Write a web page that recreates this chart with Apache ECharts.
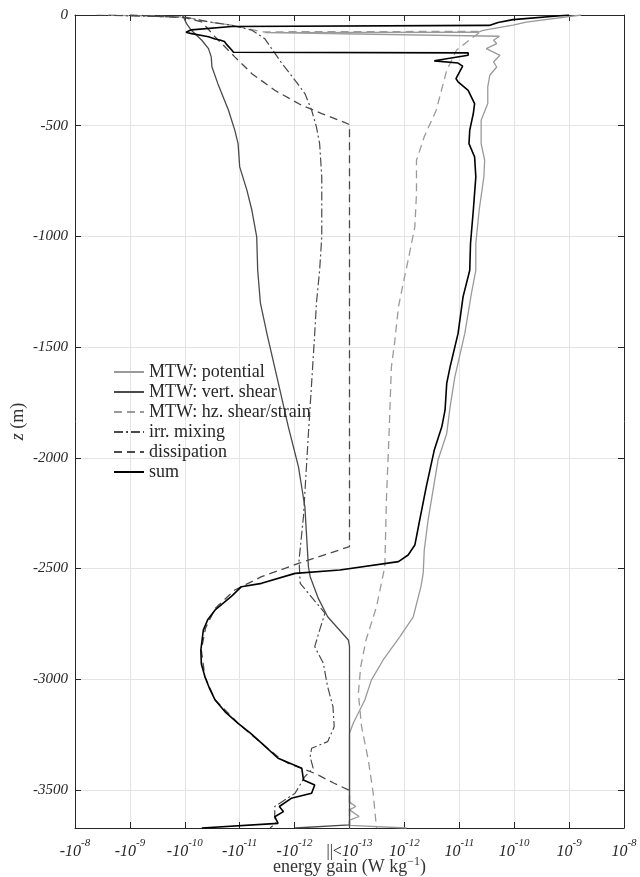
<!DOCTYPE html>
<html>
<head>
<meta charset="utf-8">
<script src="https://cdn.jsdelivr.net/npm/echarts@6/dist/echarts.min.js"></script>
<style>
html, body { margin: 0; padding: 0; background: #ffffff; }
#chart { width: 640px; height: 877px; }
</style>
</head>
<body>
<div id="chart"></div>
<script>
// Energy-gain profiles versus depth (W kg^-1, depth in m).
// Magnitudes below 1e-13 are lumped into the central "||<1e-13" band.

const depthPotential = [0, -32, -46, -69, -78, -80, -85, -96, -114, -129, -152, -182, -212, -235, -272, -325, -400, -475, -581, -656, -731, -882, -1032, -1153, -1258, -1438, -1634, -1770, -1890, -2010, -2281, -2417, -2522, -2582, -2718, -2808, -2913, -3004, -3094, -3199, -3244, -3555, -3575, -3590, -3620, -3636, -3660, -3672];
const gainPotential = [1.66e-9, 1.66e-10, 9.5e-11, 2.7e-11, 2.2e-11, -3.5e-12, -3.5e-12, 5.4e-11, 4.2e-11, 4.8e-11, 3.1e-11, 5.5e-11, 4.2e-11, 4.8e-11, 3.6e-11, 3.3e-11, 3.3e-11, 2.5e-11, 2.5e-11, 2.9e-11, 2.8e-11, 2.3e-11, 2.0e-11, 2.0e-11, 1.66e-11, 1.26e-11, 8.3e-12, 6.8e-12, 5.9e-12, 4.1e-12, 2.7e-12, 2.3e-12, 2.2e-12, 2.0e-12, 1.45e-12, 8.3e-13, 4.1e-13, 2.5e-13, 1.9e-13, 1.17e-13, 0, 0, 1.3e-13, 0, 1.5e-13, 0, 0, 1.1e-12];

const depthVertShear = [0, -39, -69, -114, -152, -189, -235, -310, -430, -520, -581, -686, -791, -882, -1002, -1153, -1300, -1438, -1634, -1860, -2041, -2221, -2492, -2537, -2635, -2718, -2823, -2850, -3658, -3672];
const gainVertShear = [-1.1e-10, -9.3e-11, -7.6e-11, -4.9e-11, -3.7e-11, -3.3e-11, -3.2e-11, -2.5e-11, -1.6e-11, -1.23e-11, -1.07e-11, -1.0e-11, -7.4e-12, -6.0e-12, -4.9e-12, -4.7e-12, -4.2e-12, -3.2e-12, -2.1e-12, -1.3e-12, -8.5e-13, -6.5e-13, -5.6e-13, -5.2e-13, -3.7e-13, -2.5e-13, -1.05e-13, 0, 0, -9.8e-13];

const depthHzShear = [0, -9, -31, -46, -76, -74, -99, -159, -250, -430, -550, -656, -806, -957, -1107, -1213, -1318, -1484, -1589, -1920, -2191, -2492, -2673, -2823, -2943, -3064, -3214, -3365, -3515, -3672];
const gainHzShear = [-2.5e-9, -1.0e-10, -3.7e-11, -1.4e-11, -4.0e-12, 2.5e-11, 1.8e-11, 8.9e-12, 5.9e-12, 3.8e-12, 2.3e-12, 1.66e-12, 1.66e-12, 1.55e-12, 1.17e-12, 9.5e-13, 7.8e-13, 6.6e-13, 5.8e-13, 5.2e-13, 4.7e-13, 4.4e-13, 3.1e-13, 2.0e-13, 1.6e-13, 1.45e-13, 1.66e-13, 2.2e-13, 2.7e-13, 3.1e-13];

const depthMixing = [0, -10, -31, -46, -69, -107, -159, -219, -295, -355, -430, -506, -581, -731, -1002, -1153, -1300, -1438, -1664, -1890, -2266, -2462, -2567, -2612, -2702, -2778, -2853, -2928, -3034, -3124, -3214, -3282, -3312, -3350, -3402, -3440, -3515, -3575, -3621, -3651, -3672];
const gainMixing = [-4.0e-9, -1.0e-10, -3.7e-11, -1.4e-11, -6.0e-12, -3.5e-12, -2.5e-12, -1.7e-12, -9.8e-13, -6.5e-13, -4.9e-13, -4.0e-13, -3.5e-13, -3.2e-13, -3.2e-13, -3.5e-13, -4.0e-13, -4.3e-13, -4.9e-13, -5.6e-13, -6.9e-13, -8.3e-13, -7.9e-13, -5.6e-13, -2.8e-13, -3.5e-13, -4.3e-13, -3.0e-13, -2.5e-13, -2.0e-13, -1.9e-13, -2.5e-13, -4.9e-13, -5.2e-13, -4.6e-13, -6.5e-13, -9.8e-13, -2.3e-12, -2.3e-12, -2.2e-12, -2.8e-12];

const depthDissipation = [0, -12, -31, -99, -189, -265, -340, -408, -445, -483, -495, -2401, -2477, -2537, -2597, -2680, -2770, -2868, -2989, -3094, -3199, -3289, -3360, -3380, -3425, -3470, -3500, -3510, -3672];
const gainDissipation = [-1.0e-9, -1.0e-10, -4.9e-11, -2.8e-11, -1.23e-11, -6.0e-12, -2.3e-12, -7.4e-13, -3.2e-13, -1.3e-13, 0, 0, -8.5e-13, -4.0e-12, -1.23e-11, -2.8e-11, -4.2e-11, -5.0e-11, -4.3e-11, -2.8e-11, -1.07e-11, -4.0e-12, -1.8e-12, -1.3e-12, -4.3e-13, -1.9e-13, -1.05e-13, 0, 0];

const depthSum = [0, -21, -34, -42, -47, -52, -67, -78, -83, -98, -108, -113, -120, -135, -158, -168, -171, -182, -207, -217, -231, -287, -302, -340, -400, -445, -520, -581, -641, -731, -882, -1032, -1153, -1273, -1438, -1589, -1664, -1785, -1860, -1965, -2131, -2281, -2394, -2439, -2469, -2507, -2522, -2567, -2582, -2625, -2687, -2730, -2778, -2868, -2930, -2989, -3045, -3094, -3150, -3199, -3245, -3289, -3357, -3402, -3455, -3478, -3515, -3538, -3575, -3598, -3621, -3651, -3672];
const gainSum = [1.0e-9, 9.5e-11, 5.1e-11, 4.8e-11, 3.5e-11, -1.4e-11, -7.6e-11, -9.5e-11, -7.9e-11, -3.7e-11, -2.8e-11, -2.3e-11, -1.9e-11, -1.7e-11, -1.4e-11, -1.3e-11, 1.45e-11, 1.45e-11, 3.5e-12, 9.5e-12, 1.15e-11, 8.7e-12, 9.5e-12, 1.45e-11, 1.9e-11, 1.8e-11, 1.55e-11, 1.5e-11, 1.9e-11, 2.0e-11, 1.8e-11, 1.6e-11, 1.55e-11, 1.17e-11, 9.5e-12, 6.8e-12, 5.9e-12, 5.5e-12, 4.8e-12, 3.5e-12, 2.5e-12, 1.9e-12, 1.55e-12, 1.17e-12, 7.8e-13, -1.5e-13, -9.8e-13, -4.0e-12, -9.3e-12, -1.4e-11, -2.8e-11, -3.8e-11, -4.6e-11, -5.1e-11, -5.0e-11, -4.3e-11, -3.5e-11, -2.8e-11, -1.8e-11, -1.07e-11, -6.3e-12, -4.0e-12, -2.0e-12, -7.4e-13, -6.9e-13, -4.3e-13, -4.9e-13, -1.15e-12, -1.9e-12, -1.6e-12, -2.3e-12, -2.0e-12, -4.9e-11];

const seriesNames = ['MTW: potential', 'MTW: vert. shear', 'MTW: hz. shear/strain', 'irr. mixing', 'dissipation', 'sum'];

// Tick labels of the signed-log gain axis, left to right.
const xTickLabels = ['-10^-8', '-10^-9', '-10^-10', '-10^-11', '-10^-12', '||<10^-13', '10^-12', '10^-11', '10^-10', '10^-9', '10^-8'];
const depthTicks = [0, -500, -1000, -1500, -2000, -2500, -3000, -3500];
const depthMin = -3672;

// Signed log scale: 0 at |g| <= 1e-13, one unit per decade beyond it.
const FLOOR_EXP = -13;
function signedLog(g) {
  if (g === 0) return 0;
  const m = Math.log10(Math.abs(g)) - FLOOR_EXP;
  return Math.sign(g) * Math.max(0, m);
}
function profile(gains, depths) {
  return gains.map((g, i) => [signedLog(g), depths[i]]);
}

const SERIF = 'Liberation Serif';
const INK = '#262626';
const GRID = '#e4e4e4';

function tickLabel(v) {
  const i = Math.round(v) + 5;
  const s = xTickLabels[i];
  if (s === undefined) return '';
  const parts = s.split('^');
  let base = parts[0];
  let out = '';
  if (base.indexOf('||<') === 0) {
    out += '{p|||<}';
    base = base.slice(3);
  }
  return out + '{b|' + base + '}{s|' + parts[1] + '}';
}

const lineDefs = [
  { data: profile(gainPotential, depthPotential), color: '#9a9a9a', width: 1.3, type: 'solid' },
  { data: profile(gainVertShear, depthVertShear), color: '#4a4a4a', width: 1.3, type: 'solid' },
  { data: profile(gainHzShear, depthHzShear), color: '#9a9a9a', width: 1.3, type: [8, 5] },
  { data: profile(gainMixing, depthMixing), color: '#4a4a4a', width: 1.2, type: [9, 3, 2, 3] },
  { data: profile(gainDissipation, depthDissipation), color: '#4a4a4a', width: 1.3, type: [8, 5] },
  { data: profile(gainSum, depthSum), color: '#000000', width: 1.6, type: 'solid' }
];

const chart = echarts.init(document.getElementById('chart'), null, { renderer: 'canvas' });

const option = {
  backgroundColor: '#ffffff',
  animation: false,
  grid: { left: 75, right: 16, top: 15, bottom: 49, containLabel: false, outerBoundsMode: 'none' },
  legend: {
    orient: 'vertical',
    left: 113,
    top: 363,
    itemWidth: 30,
    itemHeight: 14,
    itemGap: 2,
    padding: 0,
    data: seriesNames,
    itemStyle: { opacity: 0 },
    textStyle: { fontFamily: SERIF, fontSize: 18, color: INK, lineHeight: 14 },
    backgroundColor: 'transparent',
    borderWidth: 0
  },
  xAxis: [
    {
      type: 'value',
      min: -5,
      max: 5,
      interval: 1,
      position: 'bottom',
      axisLine: { show: true, onZero: false, lineStyle: { color: INK, width: 1 } },
      axisTick: { show: true, inside: true, length: 6, lineStyle: { color: INK } },
      splitLine: { show: true, lineStyle: { color: GRID, width: 1 } },
      axisLabel: {
        margin: 10,
        formatter: tickLabel,
        rich: {
          b: { fontFamily: SERIF, fontStyle: 'italic', fontSize: 16, color: INK, lineHeight: 22, verticalAlign: 'bottom' },
          p: { fontFamily: SERIF, fontStyle: 'normal', fontSize: 16, color: INK, lineHeight: 22, verticalAlign: 'bottom' },
          s: { fontFamily: SERIF, fontStyle: 'italic', fontSize: 11, color: INK, lineHeight: 12, verticalAlign: 'top' }
        }
      },
      name: '{n|energy gain (W kg}{e|\u22121}{n|)}',
      nameLocation: 'middle',
      nameGap: 28,
      nameMoveOverlap: false,
      nameTextStyle: {
        rich: {
          n: { fontFamily: SERIF, fontSize: 18, color: '#333333', lineHeight: 20, verticalAlign: 'bottom' },
          e: { fontFamily: SERIF, fontSize: 12, color: '#333333', lineHeight: 12, verticalAlign: 'top' }
        }
      }
    },
    {
      type: 'value',
      min: -5,
      max: 5,
      interval: 1,
      position: 'top',
      axisLine: { show: true, onZero: false, lineStyle: { color: INK, width: 1 } },
      axisTick: { show: true, inside: true, length: 6, lineStyle: { color: INK } },
      axisLabel: { show: false },
      splitLine: { show: false }
    }
  ],
  yAxis: [
    {
      type: 'value',
      min: depthMin,
      max: 0,
      position: 'left',
      axisLine: { show: true, onZero: false, lineStyle: { color: INK, width: 1 } },
      axisTick: { show: true, inside: true, length: 6, lineStyle: { color: INK }, customValues: depthTicks },
      splitLine: { show: true, lineStyle: { color: GRID, width: 1 } },
      axisLabel: {
        customValues: depthTicks,
        formatter: (v) => String(v),
        margin: 7,
        fontFamily: SERIF,
        fontStyle: 'italic',
        fontSize: 15,
        color: INK
      },
      name: '{i|z} (m)',
      nameLocation: 'middle',
      nameGap: 48,
      nameMoveOverlap: false,
      nameTextStyle: {
        rich: {
          i: { fontFamily: SERIF, fontStyle: 'italic', fontSize: 18, color: '#333333' }
        },
        fontFamily: SERIF,
        fontSize: 18,
        color: '#333333'
      }
    },
    {
      type: 'value',
      min: depthMin,
      max: 0,
      position: 'right',
      axisLine: { show: true, onZero: false, lineStyle: { color: INK, width: 1 } },
      axisTick: { show: true, inside: true, length: 6, lineStyle: { color: INK }, customValues: depthTicks },
      axisLabel: { show: false },
      splitLine: { show: false }
    }
  ],
  series: lineDefs.map((d, k) => ({
    name: seriesNames[k],
    type: 'line',
    xAxisIndex: 0,
    yAxisIndex: 0,
    data: d.data,
    symbol: 'none',
    showSymbol: false,
    clip: true,
    z: 2 + k,
    lineStyle: { color: d.color, width: d.width, type: d.type },
    itemStyle: { color: d.color },
    emphasis: { disabled: true }
  }))
};

chart.setOption(option);
</script>
</body>
</html>
